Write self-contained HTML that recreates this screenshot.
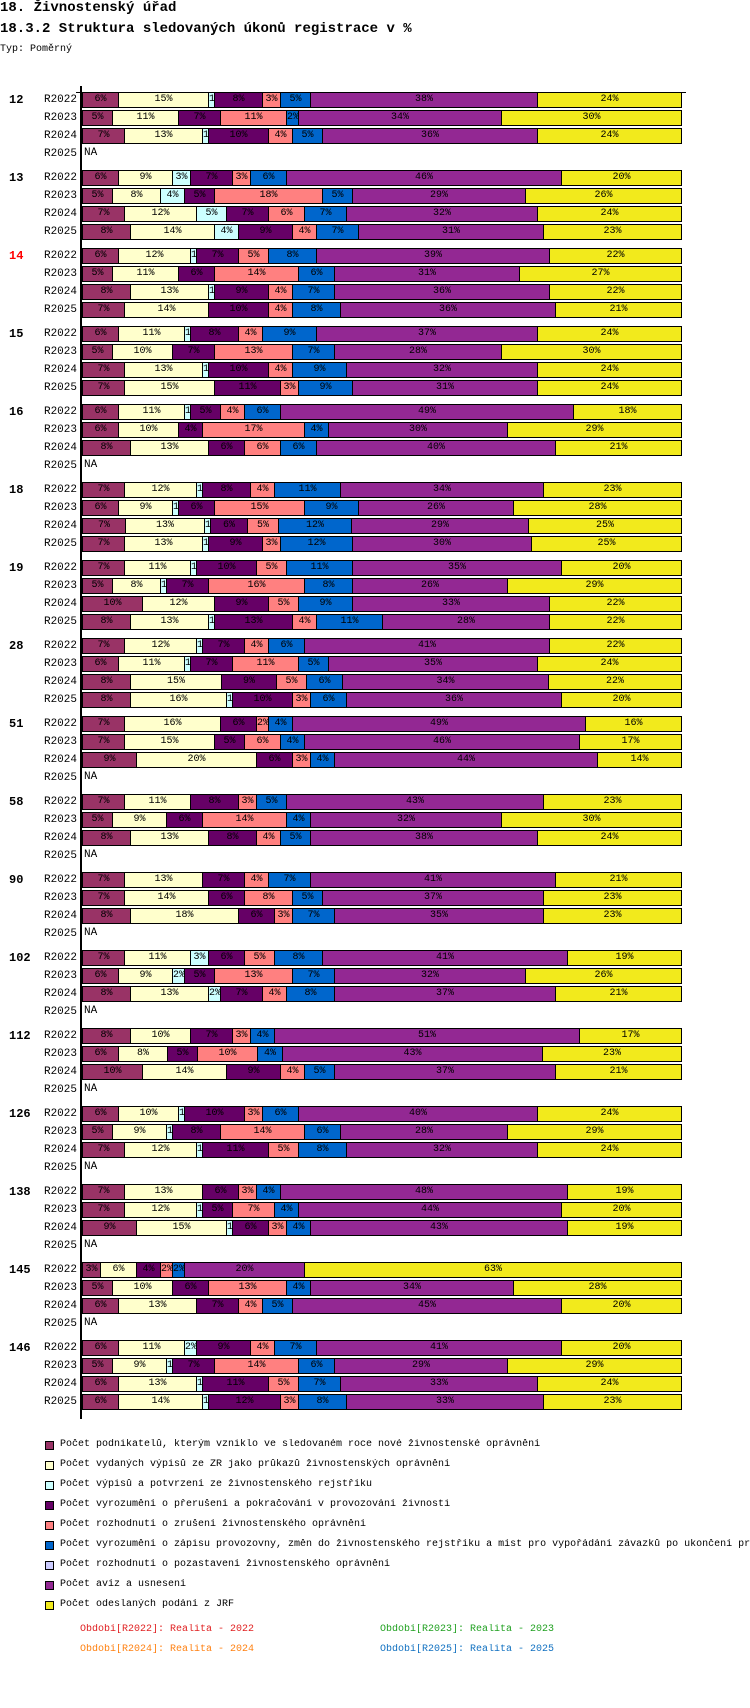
<!DOCTYPE html>
<html><head><meta charset="utf-8">
<style>
body{margin:0;width:750px;height:1708px;background:#fff;position:relative;overflow:hidden;font-family:"Liberation Mono",monospace;color:#000}
.abs{position:absolute;white-space:nowrap}
.seg{position:absolute;box-sizing:border-box;border:1px solid #000;height:16px;overflow:hidden;text-align:center;font-size:10px;line-height:14px}
.rl{position:absolute;font-size:11px;width:70px;text-align:right;line-height:16px}
.gl{position:absolute;font-size:12px;font-weight:bold;line-height:16px}
.lg{position:absolute;font-size:10px;line-height:12px;white-space:nowrap;overflow:hidden}
.sq{position:absolute;width:7px;height:7px;border:1px solid #000}
</style></head><body>
<div class="abs" style="left:0;top:0;font-size:14px;font-weight:bold">18. Živnostenský úřad</div>
<div class="abs" style="left:0;top:21px;font-size:14px;font-weight:bold">18.3.2 Struktura sledovaných úkonů registrace v %</div>
<div class="abs" style="left:0;top:44px;font-size:10px">Typ: Poměrný</div>
<div id="chart"></div>
<div id="legend"></div>
<script>
const groups=["12","13","14","15","16","18","19","28","51","58","90","102","112","126","138","145","146"];
const periods=["R2022","R2023","R2024","R2025"];
const colors=["#993366","#ffffcc","#ccffff","#660066","#ff8080","#0066cc","#ccccff","#932893","#f2ea1c"];
const seriesNames=["Počet podnikatelů, kterým vzniklo ve sledovaném roce nové živnostenské oprávnění","Počet vydaných výpisů ze ŽR jako průkazů živnostenských oprávnění","Počet výpisů a potvrzení ze živnostenského rejstříku","Počet vyrozumění o přerušení a pokračování v provozování živnosti","Počet rozhodnutí o zrušení živnostenského oprávnění","Počet vyrozumění o zápisu provozovny, změn do živnostenského rejstříku a míst pro vypořádání závazků po ukončení provozování živnosti","Počet rozhodnutí o pozastavení živnostenského oprávnění","Počet avíz a usnesení","Počet odeslaných podání z JRF"];
const values=[
[[6,15,1,8,3,5,0,38,24],[5,11,0,7,11,2,0,34,30],[7,13,1,10,4,5,0,36,24],null],
[[6,9,3,7,3,6,0,46,20],[5,8,4,5,18,5,0,29,26],[7,12,5,7,6,7,0,32,24],[8,14,4,9,4,7,0,31,23]],
[[6,12,1,7,5,8,0,39,22],[5,11,0,6,14,6,0,31,27],[8,13,1,9,4,7,0,36,22],[7,14,0,10,4,8,0,36,21]],
[[6,11,1,8,4,9,0,37,24],[5,10,0,7,13,7,0,28,30],[7,13,1,10,4,9,0,32,24],[7,15,0,11,3,9,0,31,24]],
[[6,11,1,5,4,6,0,49,18],[6,10,0,4,17,4,0,30,29],[8,13,0,6,6,6,0,40,21],null],
[[7,12,1,8,4,11,0,34,23],[6,9,1,6,15,9,0,26,28],[7,13,1,6,5,12,0,29,25],[7,13,1,9,3,12,0,30,25]],
[[7,11,1,10,5,11,0,35,20],[5,8,1,7,16,8,0,26,29],[10,12,0,9,5,9,0,33,22],[8,13,1,13,4,11,0,28,22]],
[[7,12,1,7,4,6,0,41,22],[6,11,1,7,11,5,0,35,24],[8,15,0,9,5,6,0,34,22],[8,16,1,10,3,6,0,36,20]],
[[7,16,0,6,2,4,0,49,16],[7,15,0,5,6,4,0,46,17],[9,20,0,6,3,4,0,44,14],null],
[[7,11,0,8,3,5,0,43,23],[5,9,0,6,14,4,0,32,30],[8,13,0,8,4,5,0,38,24],null],
[[7,13,0,7,4,7,0,41,21],[7,14,0,6,8,5,0,37,23],[8,18,0,6,3,7,0,35,23],null],
[[7,11,3,6,5,8,0,41,19],[6,9,2,5,13,7,0,32,26],[8,13,2,7,4,8,0,37,21],null],
[[8,10,0,7,3,4,0,51,17],[6,8,0,5,10,4,0,43,23],[10,14,0,9,4,5,0,37,21],null],
[[6,10,1,10,3,6,0,40,24],[5,9,1,8,14,6,0,28,29],[7,12,1,11,5,8,0,32,24],null],
[[7,13,0,6,3,4,0,48,19],[7,12,1,5,7,4,0,44,20],[9,15,1,6,3,4,0,43,19],null],
[[3,6,0,4,2,2,0,20,63],[5,10,0,6,13,4,0,34,28],[6,13,0,7,4,5,0,45,20],null],
[[6,11,2,9,4,7,0,41,20],[5,9,1,7,14,6,0,29,29],[6,13,1,11,5,7,0,33,24],[6,14,1,12,3,8,0,33,23]]
];
const highlight="14";
const X0=82,W=599,Y0=92,GSTEP=78,RSTEP=18;
const xScale=(v,total)=>v/total*W;
const chart=document.getElementById('chart');
function mk(cls,parent){const d=document.createElement('div');d.className=cls;parent.appendChild(d);return d;}
groups.forEach((g,gi)=>{
  const gy=Y0+gi*GSTEP;
  const gl=mk('gl',chart);
  
  
  gl.style.left='9px';gl.style.top=gy+'px';gl.textContent=g;
  if(g===highlight)gl.style.color='#ff0000';
  periods.forEach((p,pi)=>{
    const y=gy+pi*RSTEP;
    const rl=mk('rl',chart);
    
    
    rl.style.left='7px';rl.style.top=y+'px';rl.textContent=p;
    const vals=values[gi][pi];
    if(!vals){
      const na=mk('abs',chart);
      
      
      na.style.left='84px';na.style.top=(y+1)+'px';na.style.fontSize='11px';na.textContent='NA';
      return;
    }
    const total=vals.reduce((a,b)=>a+b,0);
    let acc=0;
    vals.forEach((v,si)=>{
      if(v<=0)return;
      const x1=Math.round(X0+xScale(acc,total)),x2=Math.round(X0+xScale(acc+v,total));
      acc+=v;
      const s=mk('seg',chart);
      
      
      s.style.left=x1+'px';s.style.top=y+'px';s.style.width=(x2-x1+1)+'px';
      s.style.background=colors[si];
      s.textContent=v+'%';
    });
  });
});
const ax=mk('abs',chart);


ax.style.cssText='left:80px;top:86px;width:2px;height:1333px;background:#000';
const tl=mk('abs',chart);


tl.style.cssText='left:76px;top:92px;width:610px;height:1px;background:#000';
const lg=document.getElementById('legend');
seriesNames.forEach((n,i)=>{
  const y=1439+i*20;
  const sq=mk('sq',lg);
  
  
  sq.style.left='45px';sq.style.top=(y+2)+'px';sq.style.background=colors[i];
  const t=mk('lg',lg);
  
  
  t.style.left='60px';t.style.top=y+'px';t.style.width='690px';t.textContent=n;
});
const pl=[["Období[R2022]: Realita - 2022","#e02020",80,1624],["Období[R2023]: Realita - 2023","#20a020",380,1624],["Období[R2024]: Realita - 2024","#ff8010",80,1644],["Období[R2025]: Realita - 2025","#1070c0",380,1644]];
pl.forEach(p=>{
  const t=mk('lg',lg);
  
  
  t.style.left=p[2]+'px';t.style.top=p[3]+'px';t.style.color=p[1];t.textContent=p[0];
});
</script>
</body></html>
